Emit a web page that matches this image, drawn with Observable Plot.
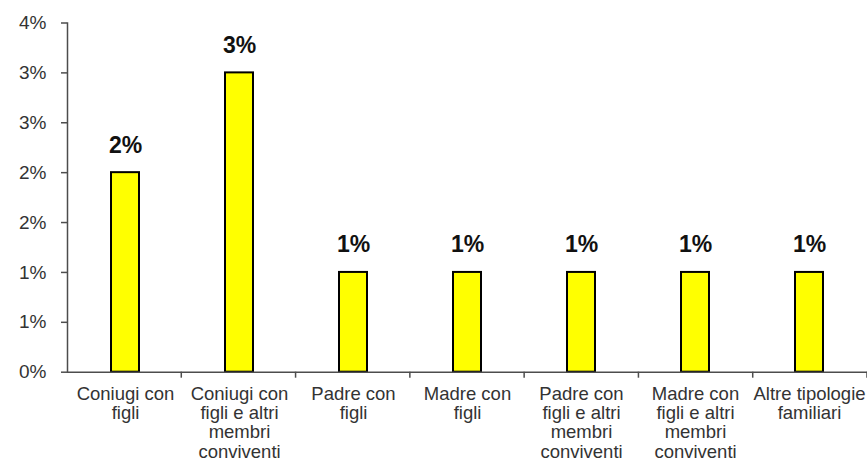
<!DOCTYPE html>
<html>
<head>
<meta charset="utf-8">
<script src="https://cdn.jsdelivr.net/npm/d3@7"></script>
<script src="https://cdn.jsdelivr.net/npm/@observablehq/plot@0.6"></script>
<style>
  html, body { margin: 0; padding: 0; background: #fff; }
  #chart { width: 867px; height: 465px; }
</style>
</head>
<body>
<div id="chart"></div>
<script>
const categories = [
  "Coniugi con\nfigli",
  "Coniugi con\nfigli e altri\nmembri\nconviventi",
  "Padre con\nfigli",
  "Madre con\nfigli",
  "Padre con\nfigli e altri\nmembri\nconviventi",
  "Madre con\nfigli e altri\nmembri\nconviventi",
  "Altre tipologie\nfamiliari"
];
const values = [0.02, 0.03, 0.01, 0.01, 0.01, 0.01, 0.01];
const valueLabels = ["2%", "3%", "1%", "1%", "1%", "1%", "1%"];
const yTicks = [0, 0.005, 0.01, 0.015, 0.02, 0.025, 0.03, 0.035];
const yTickLabels = ["0%", "1%", "1%", "2%", "2%", "3%", "3%", "4%"];

const data = categories.map((c, i) => ({cat: c, value: values[i], label: valueLabels[i]}));

const textColor = "#333333";
const axisColor = "#4d4d4d";
const font = "Liberation Sans, Arial, sans-serif";

const plot = Plot.plot({
  width: 867,
  height: 465,
  marginLeft: 67,
  marginRight: 0,
  marginTop: 22.5,
  marginBottom: 93.3,
  style: {fontFamily: font, background: "#fff", color: textColor},
  x: {domain: categories, paddingInner: 0.755, paddingOuter: 0.3775, align: 0.5},
  y: {domain: [0, 0.035]},
  marks: [
    Plot.barY(data, {x: "cat", y: "value", fill: "#ffff00", stroke: "#000", strokeWidth: 2}),
    Plot.text(data, {x: "cat", y: "value", text: "label", lineAnchor: "bottom", dy: -20,
      fontSize: 23, fontWeight: "bold", fill: "#111"}),
    Plot.ruleY([0], {stroke: axisColor, strokeWidth: 1.5}),
    Plot.frame({anchor: "left", stroke: axisColor, strokeWidth: 1.5}),
    Plot.axisY({ticks: yTicks, tickSize: 6, tickPadding: 15, stroke: axisColor, strokeWidth: 1.5,
      tickFormat: d => yTickLabels[Math.round(d / 0.005)], fontSize: 19, fill: textColor, label: null}),
    Plot.axisX({tickSize: 0, tickPadding: 14, fontSize: 18.5, lineHeight: 1.04, fill: textColor, label: null})
  ]
});

// category boundary tick marks derived from the plot's own x and y scales
const xs = plot.scale("x");
const ys = plot.scale("y");
const step = (xs.range[1] - xs.range[0]) / categories.length;
const y0 = d3.scaleLinear().domain(ys.domain).range(ys.range)(0);
const bounds = d3.range(1, categories.length + 1).map(i => xs.range[0] + i * step);
d3.select(plot).append("g").selectAll("line").data(bounds).join("line")
  .attr("x1", d => d).attr("x2", d => d)
  .attr("y1", y0).attr("y2", y0 + 6)
  .attr("stroke", axisColor).attr("stroke-width", 1.5);

document.getElementById("chart").append(plot);
</script>
</body>
</html>
